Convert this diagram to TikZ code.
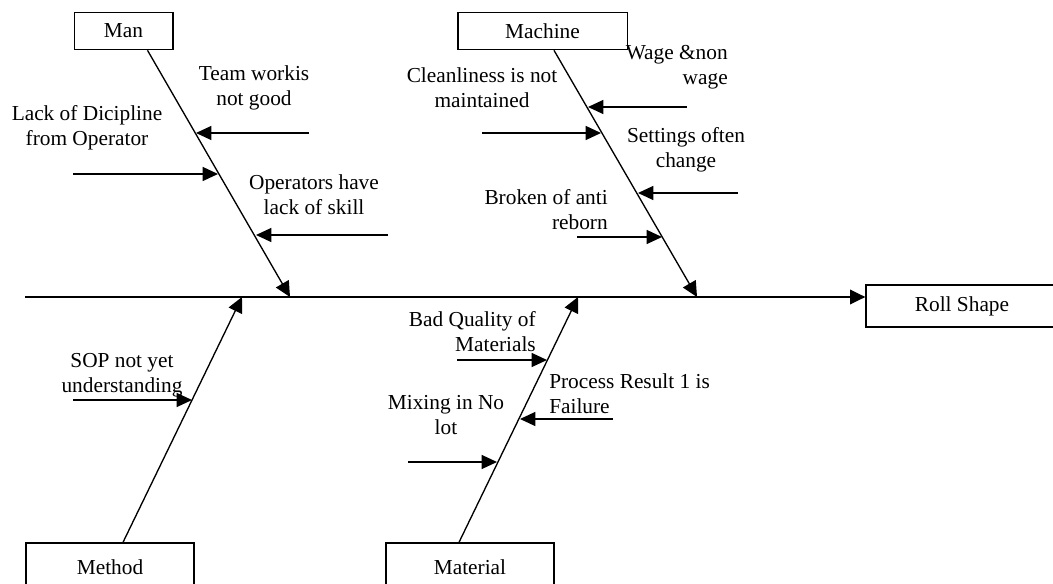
\documentclass[tikz,border=0pt]{standalone}
\usepackage{fontspec}
\setmainfont{Liberation Serif}
\usetikzlibrary{calc,arrows.meta}

\begin{document}
\begin{tikzpicture}[x=0.75pt,y=-0.75pt,every node/.style={font=\fontsize{16}{18.75}\selectfont},cat/.style={draw,line width=1pt,minimum height=28pt,inner sep=0pt},cause/.style={align=center,inner sep=0pt},bone/.style={line width=1pt,-{Triangle[length=11.5pt,width=11pt]}},link/.style={line width=1pt,-{Triangle[length=11.5pt,width=10.5pt]}}]
      \useasboundingbox (0,0) rectangle (1053,584);
      \clip (0,0) rectangle (1053,584);

      \node[cat,minimum width=74pt] (man) at (123.5,31) {Man};
      \node[cat,minimum width=127pt] (machine) at (542.5,31) {Machine};
      \node[cat,minimum width=126pt,minimum height=36pt] (method) at (110,567) {Method};
      \node[cat,minimum width=126pt,minimum height=36pt] (material) at (470,567) {Material};
      \node[cat,minimum width=144pt,minimum height=31.5pt] (roll) at (962,306) {Roll Shape};

      % spine and bones
      \coordinate (spine) at (25,297);
      \coordinate (man tip) at (290,297);
      \coordinate (machine tip) at (697,297);
      \coordinate (method tip) at (242,297);
      \coordinate (material tip) at (578,297);
      \draw[bone] (spine) -- (spine -| roll.west);
      \draw[bone] ($ (man.south) + (24,0) $) -- (man tip);
      \draw[bone] ($ (machine.south) + (11.5,0) $) -- (machine tip);
      \draw[bone] ($ (method.north) + (13,0) $) -- (method tip);
      \draw[bone] ($ (material.north) + (-11,0) $) -- (material tip);

      % causes
      \node[cause] (team) at (254,88) {Team workis\\not good};
      \node[cause] (lack) at (87,128) {Lack of Dicipline\\from Operator};
      \node[cause] (skill) at (314,195) {Operators have\\lack of skill};
      \node[cause,align=right,anchor=east] (wage) at (728,67) {Wage \&non\\wage};
      \node[cause] (clean) at (482,88) {Cleanliness is not\\maintained};
      \node[cause] (settings) at (686,150) {Settings often\\change};
      \node[cause,align=right,anchor=east] (broken) at (608,210) {Broken of anti\\reborn};
      \node[cause] (sop) at (122,375) {SOP not yet\\understanding};
      \node[cause,align=right,anchor=east] (bad) at (536,332) {Bad Quality of\\Materials};
      \node[cause,align=left,anchor=west] (process) at (549,394) {Process Result 1 is\\Failure};
      \node[cause] (mixing) at (446,415) {Mixing in No\\lot};

      \coordinate (team from) at (309,133);     \coordinate (team to) at (196,133);
      \coordinate (lack from) at (73,174);      \coordinate (lack to) at (218,174);
      \coordinate (skill from) at (388,235);    \coordinate (skill to) at (256,235);
      \coordinate (wage from) at (687,107);     \coordinate (wage to) at (588,107);
      \coordinate (clean from) at (482,133);    \coordinate (clean to) at (601,133);
      \coordinate (settings from) at (738,193); \coordinate (settings to) at (638,193);
      \coordinate (broken from) at (577,237);   \coordinate (broken to) at (662,237);
      \coordinate (sop from) at (73,400);       \coordinate (sop to) at (192,400);
      \coordinate (bad from) at (457,360);      \coordinate (bad to) at (547,360);
      \coordinate (process from) at (613,419);  \coordinate (process to) at (520,419);
      \coordinate (mixing from) at (408,462);   \coordinate (mixing to) at (497,462);

      \foreach \c in {team,lack,skill,wage,clean,settings,broken,sop,bad,process,mixing}
        \draw[link] (\c\space from) -- (\c\space to);
    \end{tikzpicture}
\end{document}
